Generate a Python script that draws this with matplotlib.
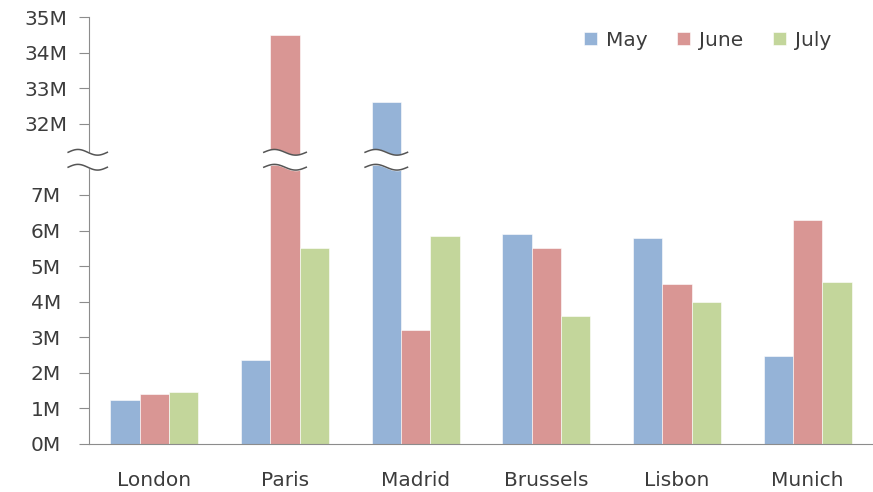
import numpy as np
import matplotlib
matplotlib.use('Agg')
import matplotlib.pyplot as plt

cities = ['London', 'Paris', 'Madrid', 'Brussels', 'Lisbon', 'Munich']
months = ['May', 'June', 'July']
may = [1.22, 2.36, 32.61, 5.89, 5.78, 2.48]
june = [1.41, 34.50, 3.20, 5.50, 4.49, 6.29]
july = [1.46, 5.50, 5.84, 3.59, 3.98, 4.55]
colors = ['#95B3D7', '#D99694', '#C3D69B']

low_ticks = [0, 1, 2, 3, 4, 5, 6, 7]
high_ticks = [32, 33, 34, 35]
offset = 23      # 32M is drawn where 9M would be
brk = 8.0        # centre of the break band


def squeeze(v):
    return v if v <= brk else v - offset


plt.rcParams['font.family'] = ['DejaVu Sans']
fig = plt.figure(figsize=(8.73, 4.92), dpi=100)
ax = fig.add_axes([0.102, 0.098, 0.898, 0.867])

x = np.arange(len(cities))
w = 0.225
series = [may, june, july]
for i, vals in enumerate(series):
    ax.bar(x + (i - 1) * w, [squeeze(v) for v in vals], w, color=colors[i],
           edgecolor='white', linewidth=0.4, label=months[i], zorder=2)

ax.set_xlim(-0.5, 5.5)
ax.set_ylim(0, 12)
ticks = low_ticks + [squeeze(t) for t in high_ticks]
ax.set_yticks(ticks)
ax.set_yticklabels([f'{t}M' for t in low_ticks + high_ticks], ha='center')
ax.set_xticks(x)
ax.set_xticklabels(cities)

txt = '#3c3c3c'
for s in ['top', 'right']:
    ax.spines[s].set_visible(False)
for s in ['left', 'bottom']:
    ax.spines[s].set_color('#8c8c8c')
ax.tick_params(axis='y', colors='#8c8c8c', labelcolor=txt, labelsize=14.5,
               length=7.2, pad=24)
ax.tick_params(axis='x', length=0, labelcolor=txt, labelsize=14.5, pad=19.5)


# break marks: white band with two wavy lines
def wave(x0, x1, y0):
    t = np.linspace(0, 1, 60)
    xs = x0 + (x1 - x0) * t
    ys = y0 + 0.08 * np.sin(2 * np.pi * t)
    return xs, ys


def draw_break(x0, x1):
    xs, ya = wave(x0, x1, brk + 0.2)
    _, yb = wave(x0, x1, brk - 0.22)
    ax.fill_between(xs, yb, ya, color='white', zorder=5, clip_on=False)
    ax.plot(xs, ya, color='#555555', lw=1.1, zorder=6, clip_on=False)
    ax.plot(xs, yb, color='#555555', lw=1.1, zorder=6, clip_on=False)


draw_break(-0.66, -0.36)
for i, vals in enumerate(series):
    for j, v in enumerate(vals):
        if v > brk:
            c = x[j] + (i - 1) * w
            draw_break(c - w / 2 - 0.05, c + w / 2 + 0.05)

ax.legend(loc='center right', bbox_to_anchor=(831 / 873, 1 - 40 / 492),
          bbox_transform=fig.transFigure, ncol=3, frameon=False,
          fontsize=14.5, handlelength=0.65, handleheight=0.65, columnspacing=1.45,
          handletextpad=0.45, borderpad=0, borderaxespad=0, labelcolor=txt)

plt.savefig('out.png', dpi=100)
